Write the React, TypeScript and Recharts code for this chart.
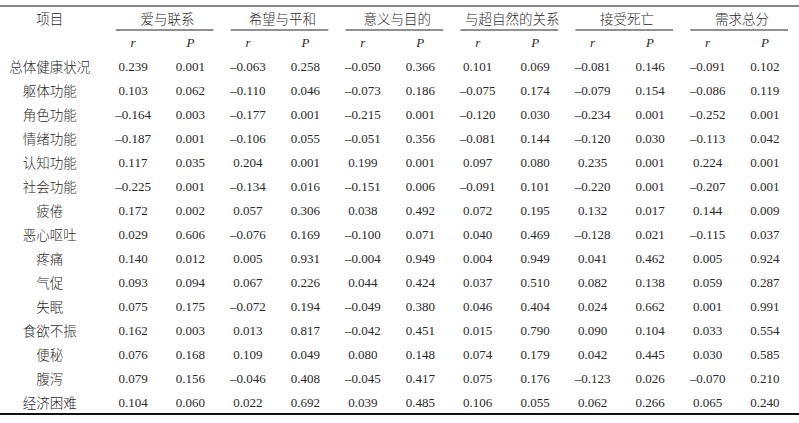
import { ScatterChart, Scatter, XAxis, YAxis, ReferenceLine } from 'recharts'

// 行：项目
const items = ['总体健康状况', '躯体功能', '角色功能', '情绪功能', '认知功能', '社会功能', '疲倦', '恶心呕吐', '疼痛', '气促', '失眠', '食欲不振', '便秘', '腹泻', '经济困难']
const groups = ['爱与联系', '希望与平和', '意义与目的', '与超自然的关系', '接受死亡', '需求总分']
const subHeads = ['r', 'P']

const loveR = [0.239, 0.103, -0.164, -0.187, 0.117, -0.225, 0.172, 0.029, 0.140, 0.093, 0.075, 0.162, 0.076, 0.079, 0.104]
const loveP = [0.001, 0.062, 0.003, 0.001, 0.035, 0.001, 0.002, 0.606, 0.012, 0.094, 0.175, 0.003, 0.168, 0.156, 0.060]
const hopeR = [-0.063, -0.110, -0.177, -0.106, 0.204, -0.134, 0.057, -0.076, 0.005, 0.067, -0.072, 0.013, 0.109, -0.046, 0.022]
const hopeP = [0.258, 0.046, 0.001, 0.055, 0.001, 0.016, 0.306, 0.169, 0.931, 0.226, 0.194, 0.817, 0.049, 0.408, 0.692]
const meaningR = [-0.050, -0.073, -0.215, -0.051, 0.199, -0.151, 0.038, -0.100, -0.004, 0.044, -0.049, -0.042, 0.080, -0.045, 0.039]
const meaningP = [0.366, 0.186, 0.001, 0.356, 0.001, 0.006, 0.492, 0.071, 0.949, 0.424, 0.380, 0.451, 0.148, 0.417, 0.485]
const divineR = [0.101, -0.075, -0.120, -0.081, 0.097, -0.091, 0.072, 0.040, 0.004, 0.037, 0.046, 0.015, 0.074, 0.075, 0.106]
const divineP = [0.069, 0.174, 0.030, 0.144, 0.080, 0.101, 0.195, 0.469, 0.949, 0.510, 0.404, 0.790, 0.179, 0.176, 0.055]
const deathR = [-0.081, -0.079, -0.234, -0.120, 0.235, -0.220, 0.132, -0.128, 0.041, 0.082, 0.024, 0.090, 0.042, -0.123, 0.062]
const deathP = [0.146, 0.154, 0.001, 0.030, 0.001, 0.001, 0.017, 0.021, 0.462, 0.138, 0.662, 0.104, 0.445, 0.026, 0.266]
const totalR = [-0.091, -0.086, -0.252, -0.113, 0.224, -0.207, 0.144, -0.115, 0.005, 0.059, 0.001, 0.033, 0.030, -0.070, 0.065]
const totalP = [0.102, 0.119, 0.001, 0.042, 0.001, 0.001, 0.009, 0.037, 0.924, 0.287, 0.991, 0.554, 0.585, 0.210, 0.240]

const columns = [loveR, loveP, hopeR, hopeP, meaningR, meaningP, divineR, divineP, deathR, deathP, totalR, totalP]

const LABEL_COL = -1.45
const fmt = (v: number) => v.toFixed(3).replace('-', '\u2013')

type Cell = { col: number; row: number; text: string; italic?: boolean; cjk?: boolean }

const cells: Cell[] = [{ col: LABEL_COL, row: -2, text: '项目', cjk: true }]
groups.forEach((g, i) => cells.push({ col: i * 2 + 0.6, row: -2, text: g, cjk: true }))
groups.forEach((_, i) =>
  subHeads.forEach((s, j) => cells.push({ col: i * 2 + j, row: -1, text: s, italic: true }))
)
items.forEach((it, row) => cells.push({ col: LABEL_COL, row, text: it, cjk: true }))
columns.forEach((vals, col) => vals.forEach((v, row) => cells.push({ col, row, text: fmt(v) })))

const CellText = (props: any) => {
  const { cx, cy, payload } = props
  return (
    <text
      x={cx}
      y={cy}
      textAnchor="middle"
      dominantBaseline="central"
      fontFamily={payload.cjk ? "'Noto Sans CJK SC', sans-serif" : "'Liberation Serif', serif"}
      fontSize={payload.cjk ? 13.5 : 13}
      fontWeight={payload.cjk ? 300 : 400}
      fontStyle={payload.italic ? 'italic' : 'normal'}
      fill="#2a2a2a"
    >
      {payload.text}
    </text>
  )
}

export default function App() {
  return (
    <div style={{ position: 'absolute', left: 0, top: 0, background: '#fff' }}>
      <ScatterChart width={799} height={423} margin={{ top: 6, right: 0, bottom: 9, left: 0 }}>
        <XAxis type="number" dataKey="col" domain={[-2.315, 11.592]} hide allowDataOverflow />
        <YAxis type="number" dataKey="row" domain={[-2.5, 14.5]} reversed hide allowDataOverflow />
        <ReferenceLine y={-2.5} stroke="#111" strokeWidth={1.2} />
        <ReferenceLine y={14.5} stroke="#111" strokeWidth={2} />
        {groups.map((g, i) => (
          <ReferenceLine
            key={g}
            segment={[{ x: i * 2 - 0.3, y: -1.5 }, { x: i * 2 + 1.4, y: -1.5 }]}
            stroke="#222"
            strokeWidth={1}
          />
        ))}
        <Scatter data={cells} shape={CellText} isAnimationActive={false} />
      </ScatterChart>
    </div>
  )
}
